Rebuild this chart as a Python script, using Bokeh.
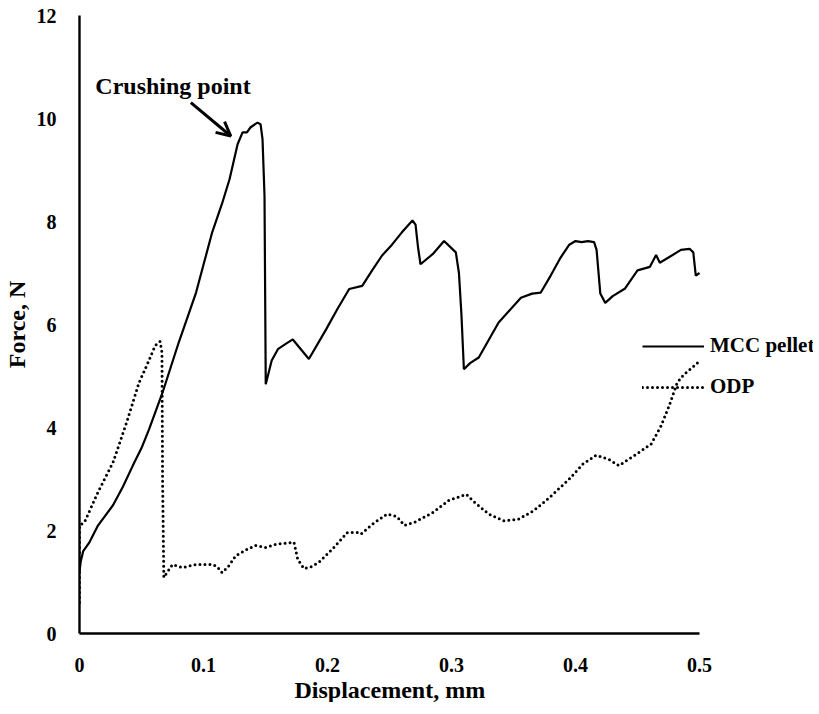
from bokeh.plotting import figure
from bokeh.models import (Range1d, FixedTicker, Legend, LegendItem, Arrow, OpenHead,
                          Label, Title)
from bokeh.embed import file_html
from bokeh.resources import INLINE

# ---- data ----
mcc_x = [0, 0.001, 0.003, 0.008, 0.015, 0.027, 0.035, 0.043, 0.05, 0.056,
         0.067, 0.08, 0.094, 0.107, 0.115, 0.121, 0.1275, 0.1315, 0.135, 0.138,
         0.1435, 0.146, 0.1476, 0.1492, 0.1502, 0.155, 0.160, 0.166, 0.172, 0.185,
         0.199, 0.208, 0.2175, 0.228, 0.236, 0.244, 0.252, 0.260, 0.2685, 0.271,
         0.273, 0.275, 0.285, 0.294, 0.3035, 0.306, 0.308, 0.310, 0.315, 0.322,
         0.338, 0.356, 0.365, 0.372, 0.38, 0.388, 0.395, 0.40, 0.405, 0.41,
         0.415, 0.417, 0.42, 0.424, 0.43, 0.44, 0.45, 0.46, 0.465, 0.468,
         0.475, 0.485, 0.492, 0.495, 0.497, 0.5]
mcc_y = [1.2, 1.4, 1.6, 1.77, 2.1, 2.49, 2.85, 3.26, 3.6, 3.96,
         4.68, 5.65, 6.62, 7.79, 8.35, 8.82, 9.5, 9.73, 9.73, 9.83,
         9.92, 9.89, 9.6, 8.5, 4.84, 5.3, 5.52, 5.62, 5.71, 5.33,
         5.91, 6.3, 6.69, 6.75, 7.05, 7.34, 7.55, 7.79, 8.02, 7.94,
         7.5, 7.17, 7.37, 7.62, 7.40, 7.0, 6.2, 5.13, 5.25, 5.36,
         6.04, 6.52, 6.6, 6.62, 6.95, 7.3, 7.55, 7.62, 7.6, 7.62,
         7.6, 7.45, 6.6, 6.42, 6.55, 6.7, 7.05, 7.12, 7.35, 7.2,
         7.3, 7.45, 7.47, 7.4, 6.95, 7.0]

odp_x = [0, 0, 0.004, 0.015, 0.027, 0.038, 0.048, 0.056, 0.061, 0.065,
         0.0665, 0.067, 0.068, 0.071, 0.075, 0.083, 0.094, 0.107, 0.111, 0.115,
         0.12, 0.126, 0.134, 0.142, 0.150, 0.158, 0.165, 0.173, 0.176, 0.181,
         0.187, 0.193, 0.204, 0.216, 0.224, 0.227, 0.236, 0.248, 0.256, 0.262,
         0.271, 0.285, 0.298, 0.312, 0.318, 0.330, 0.342, 0.354, 0.366, 0.379,
         0.395, 0.406, 0.4165, 0.427, 0.435, 0.449, 0.461, 0.469, 0.4755, 0.482,
         0.4875, 0.4935, 0.5]
odp_y = [0.6, 2.1, 2.16, 2.75, 3.32, 4.1, 4.87, 5.3, 5.59, 5.67,
         5.46, 3.0, 1.09, 1.2, 1.34, 1.28, 1.34, 1.34, 1.3, 1.18,
         1.3, 1.51, 1.62, 1.71, 1.67, 1.73, 1.75, 1.77, 1.44, 1.26,
         1.3, 1.38, 1.64, 1.96, 1.96, 1.93, 2.12, 2.32, 2.27, 2.10,
         2.17, 2.35, 2.59, 2.70, 2.56, 2.32, 2.19, 2.22, 2.38, 2.64,
         3.00, 3.29, 3.46, 3.38, 3.26, 3.48, 3.68, 4.03, 4.42, 4.87,
         5.03, 5.15, 5.29]

series_names = ["MCC pellet", "ODP"]
x_ticks = [0, 0.1, 0.2, 0.3, 0.4, 0.5]
x_tick_labels = ["0", "0.1", "0.2", "0.3", "0.4", "0.5"]
y_ticks = [0, 2, 4, 6, 8, 10, 12]
annotation_text = "Crushing point"
x_title = "Displacement, mm"
y_title = "Force, N"

assert len(mcc_x) == len(mcc_y) and len(odp_x) == len(odp_y)

FONT = "Liberation Serif"
X_MAX = 0.5            # end of the drawn x axis
AXIS_W = 620           # pixels spanned by 0..X_MAX
FRAME_W = 734          # frame extends to the right to hold the legend
FRAME_H = 618

p = figure(frame_width=FRAME_W, frame_height=FRAME_H,
           min_border_left=69, min_border_right=0,
           min_border_top=15, min_border_bottom=0,
           x_range=Range1d(0, X_MAX * FRAME_W / AXIS_W), y_range=Range1d(0, 12),
           output_backend="svg", toolbar_location=None)
p.outline_line_color = None
p.xgrid.visible = False
p.ygrid.visible = False
p.background_fill_color = "white"
p.border_fill_color = "white"

r_mcc = p.line(mcc_x, mcc_y, line_color="black", line_width=2.2)
r_odp = p.line(odp_x, odp_y, line_color="black", line_width=3,
               line_dash="0 5", line_cap="round")

for ax in (p.xaxis[0], p.yaxis[0]):
    ax.axis_line_color = "black"
    ax.axis_line_width = 2.4
    ax.major_tick_line_color = None
    ax.minor_tick_line_color = None
    ax.major_label_text_font = FONT
    ax.major_label_text_font_style = "bold"
    ax.major_label_text_font_size = "20px"
    ax.major_label_text_color = "black"
    ax.axis_label_text_font = FONT
    ax.axis_label_text_font_style = "bold"
    ax.axis_label_text_font_size = "24px"
    ax.axis_label_text_color = "black"

p.xaxis.bounds = (0, X_MAX)
p.xaxis.ticker = FixedTicker(ticks=x_ticks)
p.xaxis.major_label_overrides = {t: l for t, l in zip(x_ticks, x_tick_labels)}
p.yaxis.ticker = FixedTicker(ticks=y_ticks)
p.yaxis.axis_label = y_title
p.xaxis.major_label_standoff = 18
p.yaxis.major_label_standoff = 17
p.yaxis.axis_label_standoff = 4

xtitle = Title(text=x_title, align="left", offset=215,
               text_font=FONT, text_font_style="bold", text_font_size="24px",
               text_color="black", standoff=0)
p.add_layout(xtitle, "below")

arrow = Arrow(end=OpenHead(size=14, line_width=3, line_color="black"),
              x_start=0.0898, y_start=10.31, x_end=0.122, y_end=9.66,
              line_width=3, line_color="black")
p.add_layout(arrow)
lab = Label(x=0.0754, y=10.63, text=annotation_text, text_align="center",
            text_baseline="middle", text_font=FONT, text_font_style="bold",
            text_font_size="24px", text_color="black")
p.add_layout(lab)

legend = Legend(items=[LegendItem(label=series_names[0], renderers=[r_mcc]),
                       LegendItem(label=series_names[1], renderers=[r_odp])],
                location=(563, 234), orientation="vertical",
                padding=0, margin=0, border_line_color=None,
                background_fill_alpha=0, glyph_width=62, glyph_height=24,
                label_height=24, label_standoff=6, spacing=16,
                label_text_font=FONT, label_text_font_style="bold",
                label_text_font_size="21px", label_text_color="black")
p.add_layout(legend, "center")

open("out.html", "w").write(file_html(p, INLINE))
